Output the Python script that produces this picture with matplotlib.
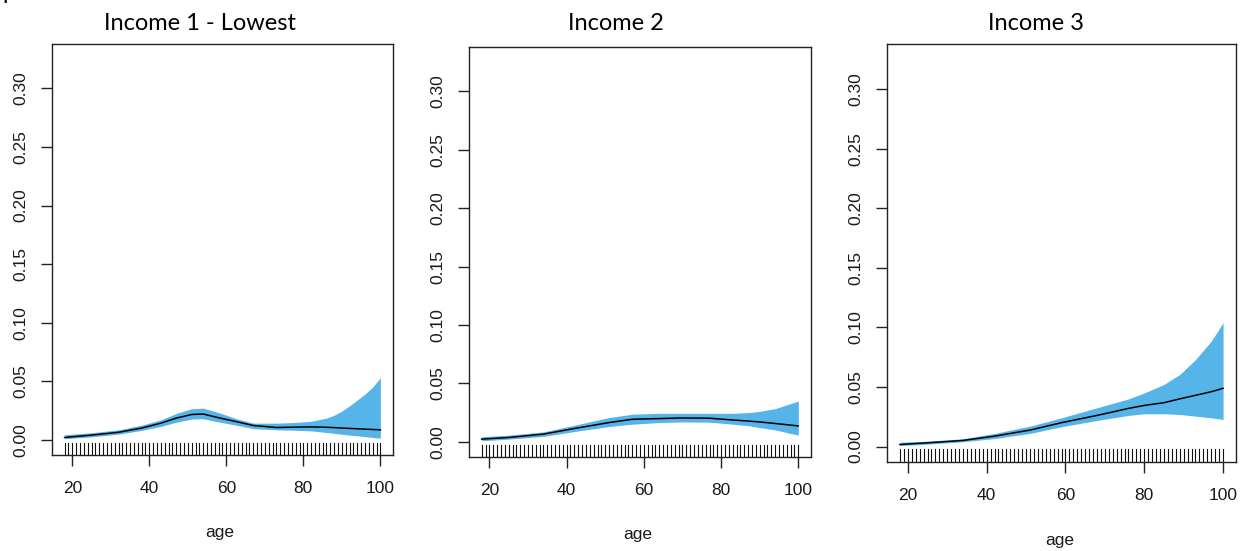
import matplotlib
matplotlib.use("Agg")
import matplotlib.pyplot as plt
import numpy as np

# values (age, lower band, fitted, upper band)
titles = ["Income 1 - Lowest", "Income 2", "Income 3"]

age1 = [18, 25, 32, 38, 43, 47, 51, 54, 58, 63, 67, 73, 78, 82, 86, 88, 90, 92, 94, 96, 98, 100]
fit1 = [0.0020, 0.0040, 0.0064, 0.0100, 0.0142, 0.0185, 0.0216, 0.0220, 0.0188, 0.0152, 0.0122,
        0.0105, 0.0108, 0.0110, 0.0107, 0.0104, 0.0100, 0.0097, 0.0094, 0.0091, 0.0088, 0.0085]
up1 = [0.0043, 0.0060, 0.0085, 0.0125, 0.0170, 0.0225, 0.0265, 0.0270, 0.0232, 0.0176, 0.0142,
       0.0142, 0.0148, 0.0158, 0.0185, 0.0210, 0.0245, 0.0290, 0.0340, 0.0390, 0.0450, 0.0530]
lo1 = [0.0009, 0.0025, 0.0048, 0.0080, 0.0114, 0.0150, 0.0177, 0.0179, 0.0152, 0.0122, 0.0095,
       0.0085, 0.0081, 0.0076, 0.0062, 0.0055, 0.0047, 0.0040, 0.0034, 0.0027, 0.0020, 0.0014]

age2 = [18, 25, 34, 42, 51, 57, 64, 70, 77, 83, 87, 90, 94, 100]
fit2 = [0.0023, 0.0037, 0.0066, 0.0114, 0.0165, 0.0193, 0.0199, 0.0204, 0.0202, 0.0187,
        0.0178, 0.0170, 0.0157, 0.0136]
up2 = [0.0043, 0.0057, 0.0085, 0.0142, 0.0208, 0.0236, 0.0244, 0.0244, 0.0244, 0.0244,
       0.0250, 0.0261, 0.0284, 0.0349]
lo2 = [0.0009, 0.0023, 0.0046, 0.0088, 0.0131, 0.0151, 0.0165, 0.0170, 0.0168, 0.0151,
       0.0138, 0.0122, 0.0102, 0.0057]

age3 = [18, 25, 34, 42, 51, 59, 68, 76, 80, 85, 89, 93, 97, 100]
fit3 = [0.0017, 0.0031, 0.0051, 0.0087, 0.0138, 0.0200, 0.0261, 0.0320, 0.0345, 0.0368,
        0.0400, 0.0430, 0.0460, 0.0489]
up3 = [0.0036, 0.0045, 0.0065, 0.0110, 0.0171, 0.0241, 0.0325, 0.0400, 0.0450, 0.0521,
       0.0605, 0.0730, 0.0885, 0.1040]
lo3 = [0.0008, 0.0020, 0.0040, 0.0067, 0.0110, 0.0166, 0.0219, 0.0261, 0.0275, 0.0275,
       0.0269, 0.0255, 0.0241, 0.0227]

rug_ages = list(range(18, 101))
yticks = [0.00, 0.05, 0.10, 0.15, 0.20, 0.25, 0.30]
xticks = [20, 40, 60, 80, 100]

W, H = 1245, 551
fig = plt.figure(figsize=(W / 100, H / 100), dpi=100)

# panel boxes in pixels: left, right, top, bottom
boxes = [(52, 393, 44, 455), (469, 811, 47, 457), (887, 1236, 44, 462)]
title_pos = [(200, 23), (616, 23), (1036, 23)]
xlab_pos = [(220, 532), (638, 535), (1060, 541)]
data = [(age1, lo1, fit1, up1), (age2, lo2, fit2, up2), (age3, lo3, fit3, up3)]

band_col = "#56B4E9"
tick_font = "Liberation Sans"
title_font = "Lato"

for i in range(3):
    l, r, t, b = boxes[i]
    ax = fig.add_axes([l / W, 1 - b / H, (r - l) / W, (b - t) / H])
    a, lo, fit, up = data[i]
    ax.fill_between(a, lo, up, color=band_col, linewidth=0)
    ax.plot(a, fit, color="black", lw=1.1)
    # rug along the bottom
    for x in rug_ages:
        ax.axvline(x, ymin=0, ymax=0.03, color="#111111", lw=0.8)
    ax.set_xlim(14.72, 103.28)
    ax.set_ylim(-0.013, 0.338)
    ax.set_xticks(xticks)
    ax.set_xticklabels([str(v) for v in xticks])
    ax.set_yticks(yticks)
    ax.set_yticklabels(["%.2f" % v for v in yticks], rotation=90, va="center")
    ax.tick_params(axis="both", direction="out", length=8, width=1, color="#222222",
                   labelsize=12.5, labelcolor="#1a1a1a")
    ax.tick_params(axis="x", pad=11)
    ax.tick_params(axis="y", pad=9)
    for lab in ax.get_xticklabels() + ax.get_yticklabels():
        lab.set_fontfamily(tick_font)
    for s in ax.spines.values():
        s.set_linewidth(1)
        s.set_color("#222222")
    fig.text(title_pos[i][0] / W, 1 - title_pos[i][1] / H, titles[i], ha="center",
             va="center", fontsize=17, family=title_font, color="black")
    fig.text(xlab_pos[i][0] / W, 1 - xlab_pos[i][1] / H, "age", ha="center",
             va="center", fontsize=12.5, family=tick_font, color="#1a1a1a")

# cut-off letter at the top-left corner
fig.text(2 / W, 1 + 1 / H, "p", ha="left", va="baseline", fontsize=17, family=title_font)

fig.savefig("out.png", dpi=100)
